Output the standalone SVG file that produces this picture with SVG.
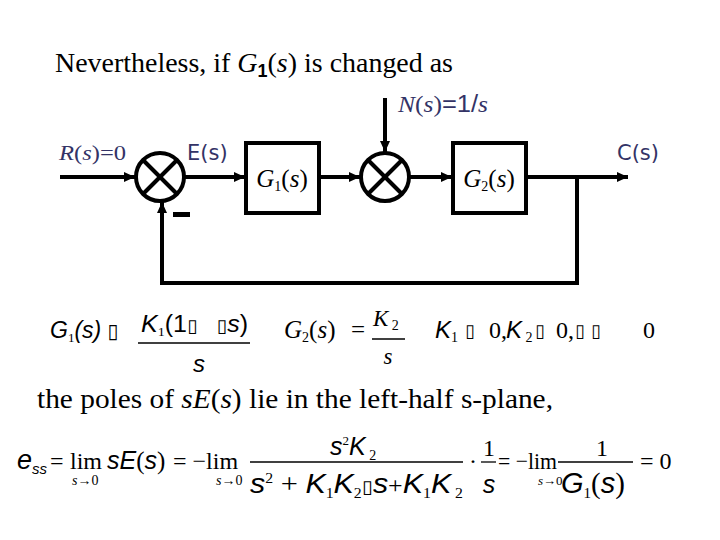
<svg xmlns="http://www.w3.org/2000/svg" width="720" height="540" viewBox="0 0 720 540">
<style>
.serif{font-family:"Liberation Serif","Times New Roman",serif;}
.sans{font-family:"Liberation Sans",Arial,sans-serif;}
.dv{font-family:"DejaVu Sans",Verdana,sans-serif;}
.it{font-style:italic;}
.up{font-style:normal;}
.navy{fill:#333366;}
.wire{fill:none;stroke:#000;stroke-width:4;}
.box{fill:#fff;stroke:#000;stroke-width:4;}
.sum{fill:#fff;stroke:#000;stroke-width:4;}
.x{stroke:#000;stroke-width:4;}
.frac{stroke:#000;stroke-width:1.3;}
</style>
<defs>
<marker id="ah" markerUnits="userSpaceOnUse" markerWidth="12" markerHeight="12" refX="11" refY="6" orient="auto">
<path d="M0,1 L11,6 L0,11 z" fill="#000"/>
</marker>
</defs>
<rect width="720" height="540" fill="#fff"/>

<text x="55" y="72" font-size="28" class="serif" textLength="398" lengthAdjust="spacingAndGlyphs">Nevertheless, if <tspan class="it">G</tspan><tspan font-size="18" dy="5" class="sans" font-weight="bold">1</tspan><tspan dy="-5">(</tspan><tspan class="it">s</tspan>) is changed as</text>

<g id="connectors">
<line class="wire" x1="60" y1="177" x2="135" y2="177" marker-end="url(#ah)"/>
<line class="wire" x1="185" y1="177" x2="245" y2="177" marker-end="url(#ah)"/>
<line class="wire" x1="320" y1="177" x2="360" y2="177" marker-end="url(#ah)"/>
<line class="wire" x1="385" y1="98" x2="385" y2="152" marker-end="url(#ah)"/>
<line class="wire" x1="410" y1="177" x2="452" y2="177" marker-end="url(#ah)"/>
<line class="wire" x1="526" y1="177" x2="628" y2="177" marker-end="url(#ah)"/>
<polyline class="wire" points="577,177 577,283 162,283 162,202" marker-end="url(#ah)"/>
</g>

<g id="sum1">
<circle class="sum" cx="160" cy="177" r="24"/>
<line class="x" x1="143" y1="160" x2="177" y2="194"/>
<line class="x" x1="177" y1="160" x2="143" y2="194"/>
<rect x="173" y="212" width="17" height="5" fill="#000"/>
</g>
<g id="sum2">
<circle class="sum" cx="385" cy="177" r="24"/>
<line class="x" x1="368" y1="160" x2="402" y2="194"/>
<line class="x" x1="402" y1="160" x2="368" y2="194"/>
</g>
<g id="G1">
<rect class="box" x="246" y="143" width="73" height="70"/>
<text x="282" y="187" font-size="25" class="serif" text-anchor="middle"><tspan class="it">G</tspan><tspan font-size="14" dy="4">1</tspan><tspan dy="-4">(</tspan><tspan class="it">s</tspan>)</text>
</g>
<g id="G2">
<rect class="box" x="453" y="143" width="73" height="70"/>
<text x="489" y="187" font-size="25" class="serif" text-anchor="middle"><tspan class="it">G</tspan><tspan font-size="14" dy="4">2</tspan><tspan dy="-4">(</tspan><tspan class="it">s</tspan>)</text>
</g>

<g id="labels">
<text x="398" y="112" font-size="23" class="serif navy" textLength="90" lengthAdjust="spacingAndGlyphs"><tspan class="it">N</tspan>(<tspan class="it">s</tspan>)<tspan class="sans">=1/</tspan><tspan class="it">s</tspan></text>
<text x="59" y="160" font-size="20" class="serif navy" textLength="67" lengthAdjust="spacingAndGlyphs"><tspan class="it">R</tspan>(<tspan class="it">s</tspan>)=0</text>
<text x="187" y="160" font-size="21" class="dv navy">E(s)</text>
<text x="617" y="160" font-size="21" class="dv navy">C(s)</text>
</g>

<g id="eq1">
<text x="50" y="338" font-size="23" class="sans it">G<tspan font-size="13" dy="4" class="serif up">1</tspan><tspan dy="-4">(s)</tspan><tspan class="dv up" font-size="20"> ▯</tspan></text>
<text x="141" y="332" font-size="23" class="sans" textLength="107" lengthAdjust="spacingAndGlyphs"><tspan class="it">K</tspan><tspan font-size="13" dy="4" class="serif">1</tspan><tspan dy="-4">(1</tspan><tspan class="dv" font-size="18">▯&#160;&#160;&#160;</tspan><tspan class="dv it" font-size="18">▯</tspan><tspan class="it">s</tspan>)</text>
<line class="frac" x1="138" y1="343" x2="250" y2="343"/>
<text x="199" y="372" font-size="24" class="sans it" text-anchor="middle">s</text>

<text x="284" y="338" font-size="25" class="serif"><tspan class="it">G</tspan><tspan font-size="14" dy="4">2</tspan><tspan dy="-4">(</tspan><tspan class="it">s</tspan>)</text>
<text x="351" y="338" font-size="25" class="serif">=</text>
<text x="373" y="326" font-size="23" class="serif"><tspan class="it">K</tspan><tspan font-size="14" dy="4"> 2</tspan></text>
<line class="frac" x1="372" y1="339" x2="405" y2="339"/>
<text x="388" y="364" font-size="23" class="serif it" text-anchor="middle">s</text>

<text x="435" y="338" font-size="24" class="sans it">K<tspan font-size="14" dy="4" class="serif up">1</tspan></text>
<text x="465" y="337" font-size="18" class="dv">▯</text>
<text x="489" y="338" font-size="24" class="serif">0,</text>
<text x="506" y="338" font-size="24" class="sans it">K<tspan font-size="14" dy="4" class="serif up"> 2</tspan></text>
<text x="535" y="337" font-size="18" class="dv">▯</text>
<text x="556" y="338" font-size="24" class="serif">0,</text>
<text x="575" y="337" font-size="18" class="dv it">▯</text>
<text x="591" y="337" font-size="18" class="dv">▯</text>
<text x="643" y="338" font-size="24" class="serif">0</text>
</g>

<text x="37" y="408" font-size="28" class="serif" textLength="516" lengthAdjust="spacingAndGlyphs">the poles of <tspan class="it">sE</tspan>(<tspan class="it">s</tspan>) lie in the left-half s-plane,</text>

<g id="eq2">
<text x="17" y="469" font-size="27" class="sans it">e<tspan font-size="15" dy="5">ss</tspan></text>
<text x="50" y="469" font-size="24" class="serif">=</text>
<text x="70" y="469" font-size="24" class="serif">lim</text>
<text x="72" y="485" font-size="14" class="serif"><tspan class="it">s</tspan>→0</text>
<text x="107" y="469" font-size="25" class="sans it">sE<tspan class="serif up">(</tspan>s<tspan class="serif up">)</tspan></text>
<text x="173" y="469" font-size="24" class="serif">= −lim</text>
<text x="216" y="485" font-size="14" class="serif"><tspan class="it">s</tspan>→0</text>

<text x="330" y="455" font-size="25" class="sans it">s<tspan font-size="13" dy="-10" class="serif up">2</tspan><tspan dy="10">K</tspan><tspan font-size="14" dy="5" class="serif up"> 2</tspan></text>
<line class="frac" x1="250" y1="462" x2="463" y2="462"/>
<text x="250" y="493" font-size="27" class="sans it" textLength="213" lengthAdjust="spacingAndGlyphs">s<tspan font-size="14" dy="-10" class="serif up">2</tspan><tspan dy="10" class="serif up"> + </tspan>K<tspan font-size="14" dy="5" class="serif up">1</tspan><tspan dy="-5">K</tspan><tspan font-size="14" dy="5" class="serif up">2</tspan><tspan dy="-5" class="dv up" font-size="18">▯</tspan>s<tspan class="serif up" font-size="23">+</tspan>K<tspan font-size="14" dy="5" class="serif up">1</tspan><tspan dy="-5">K</tspan><tspan font-size="14" dy="5" class="serif up"> 2</tspan></text>
<text x="469" y="469" font-size="24" class="serif">·</text>
<text x="489" y="456" font-size="24" class="serif" text-anchor="middle">1</text>
<line class="frac" x1="481" y1="462" x2="496" y2="462"/>
<text x="489" y="493" font-size="25" class="sans it" text-anchor="middle">s</text>
<text x="498" y="469" font-size="24" class="serif" textLength="59" lengthAdjust="spacingAndGlyphs">= −lim</text>
<text x="538" y="485" font-size="13" class="serif"><tspan class="it">s</tspan>→0</text>
<line class="frac" x1="558" y1="462" x2="633" y2="462"/>
<text x="602" y="456" font-size="24" class="serif" text-anchor="middle">1</text>
<text x="561" y="493" font-size="29" class="sans it">G<tspan font-size="15" dy="5" class="serif up">1</tspan><tspan dy="-5" class="serif up">(</tspan>s<tspan class="serif up">)</tspan></text>
<text x="640" y="469" font-size="24" class="serif">= 0</text>
</g>
</svg>
